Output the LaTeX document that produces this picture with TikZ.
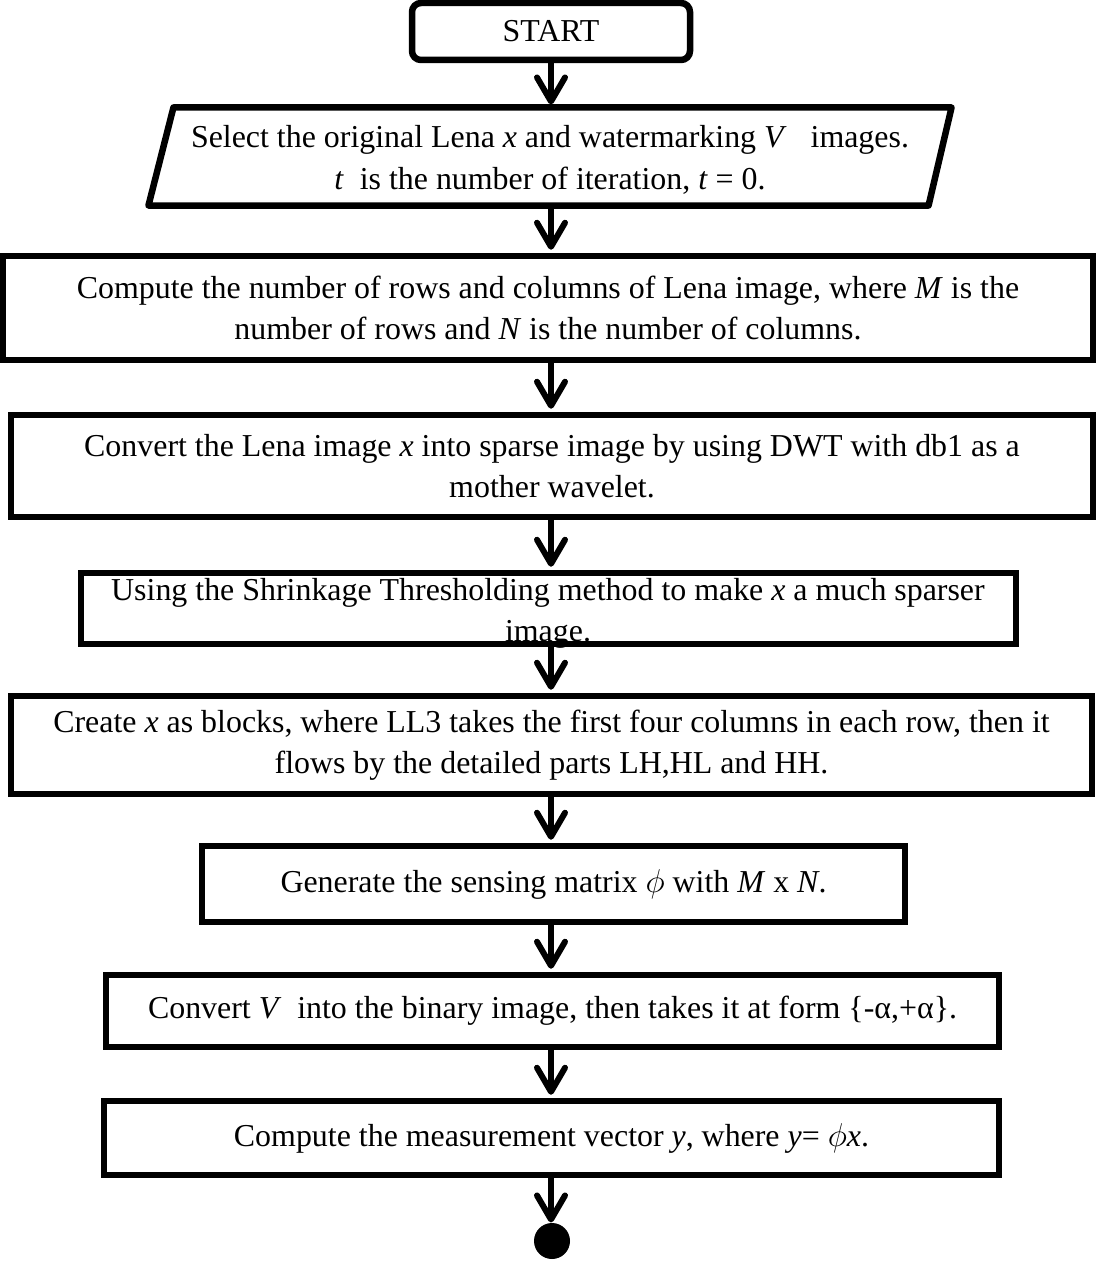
\documentclass[tikz,border=0pt]{standalone}
\usepackage{fontspec}
\setmainfont{Liberation Serif}
\usetikzlibrary{arrows.meta}
\def\pxu{0.3636pt}
\begin{document}
\begin{tikzpicture}[x=\pxu, y=-\pxu,
  font=\fontsize{11.6}{15}\selectfont,
  stepbox/.style={draw, line width=6.5*\pxu, inner sep=0pt, align=center},
  textonly/.style={inner sep=0pt, align=center},
  arr/.style={line width=6*\pxu, shorten >=3*\pxu,
    -{Straight Barb[length=24*\pxu, width=28*\pxu, round]}}]
\useasboundingbox (0,0) rectangle (1096,1262);
\coordinate (ax) at (551,0);

% start terminal
\node[stepbox, rounded corners=9*\pxu, minimum width=278*\pxu, minimum height=57*\pxu]
  (start) at (551,31.5) {START};

% input parallelogram
\node[textonly, minimum width=802*\pxu, minimum height=97*\pxu] (sel) at (550,156.5) {};
\node[textonly] (seltext) at (550,160)
  {Select the original Lena \textit{x} and watermarking \textit{V}\ \ \ images.\\
   \textit{t}\ \ is the number of iteration, \textit{t} = 0.};
\draw[line width=6.5*\pxu, line join=round]
  (sel.south west) -- ([xshift=25*\pxu]sel.north west) -- (sel.north east)
  -- ([xshift=-23*\pxu]sel.south east) -- cycle;

% process steps
\node[stepbox, minimum width=1090*\pxu, minimum height=104*\pxu] (rows) at (548,308)
  {Compute the number of rows and columns of Lena image, where \textit{M} is the\\
   number of rows and \textit{N} is the number of columns.};

\node[stepbox, minimum width=1082*\pxu, minimum height=102*\pxu] (dwt) at (552,466)
  {Convert the Lena image \textit{x} into sparse image by using DWT with db1 as a\\
   mother wavelet.};

\node[textonly] (shrtext) at (548,613)
  {Using the Shrinkage Thresholding method to make \textit{x} a much sparser\\
   image.};
\node[stepbox, minimum width=935*\pxu, minimum height=71*\pxu] (shr) at (548.5,608.5) {};

\node[stepbox, minimum width=1081*\pxu, minimum height=98*\pxu] (blk) at (551.5,745)
  {Create \textit{x} as blocks, where LL3 takes the first four columns in each row, then it\\
   flows by the detailed parts LH,HL and HH.};

\node[stepbox, minimum width=703*\pxu, minimum height=76*\pxu] (sens) at (553.5,884)
  {Generate the sensing matrix $\phi$ with \textit{M} x \textit{N}.};

\node[stepbox, minimum width=893*\pxu, minimum height=72*\pxu] (bin) at (552.5,1011)
  {Convert \textit{V}\ \ into the binary image, then takes it at form \{-α,+α\}.};

\node[stepbox, minimum width=895*\pxu, minimum height=74*\pxu] (meas) at (551.5,1138)
  {Compute the measurement vector \textit{y}, where \textit{y}= $\phi$\textit{x}.};

% end point
\node[circle, fill, inner sep=0pt, minimum size=36*\pxu] (stop) at (552,1241) {};

% connectors
\draw[arr] (start.south -| ax) -- (sel.north -| ax);
\draw[arr] (sel.south -| ax) -- (rows.north -| ax);
\draw[arr] (rows.south -| ax) -- (dwt.north -| ax);
\draw[arr] (dwt.south -| ax) -- (shr.north -| ax);
\draw[arr] (shr.south -| ax) -- (blk.north -| ax);
\draw[arr] (blk.south -| ax) -- (sens.north -| ax);
\draw[arr] (sens.south -| ax) -- (bin.north -| ax);
\draw[arr] (bin.south -| ax) -- (meas.north -| ax);
\draw[arr, shorten >=0pt] (meas.south -| ax) -- (stop.north -| ax);
\end{tikzpicture}
\end{document}
